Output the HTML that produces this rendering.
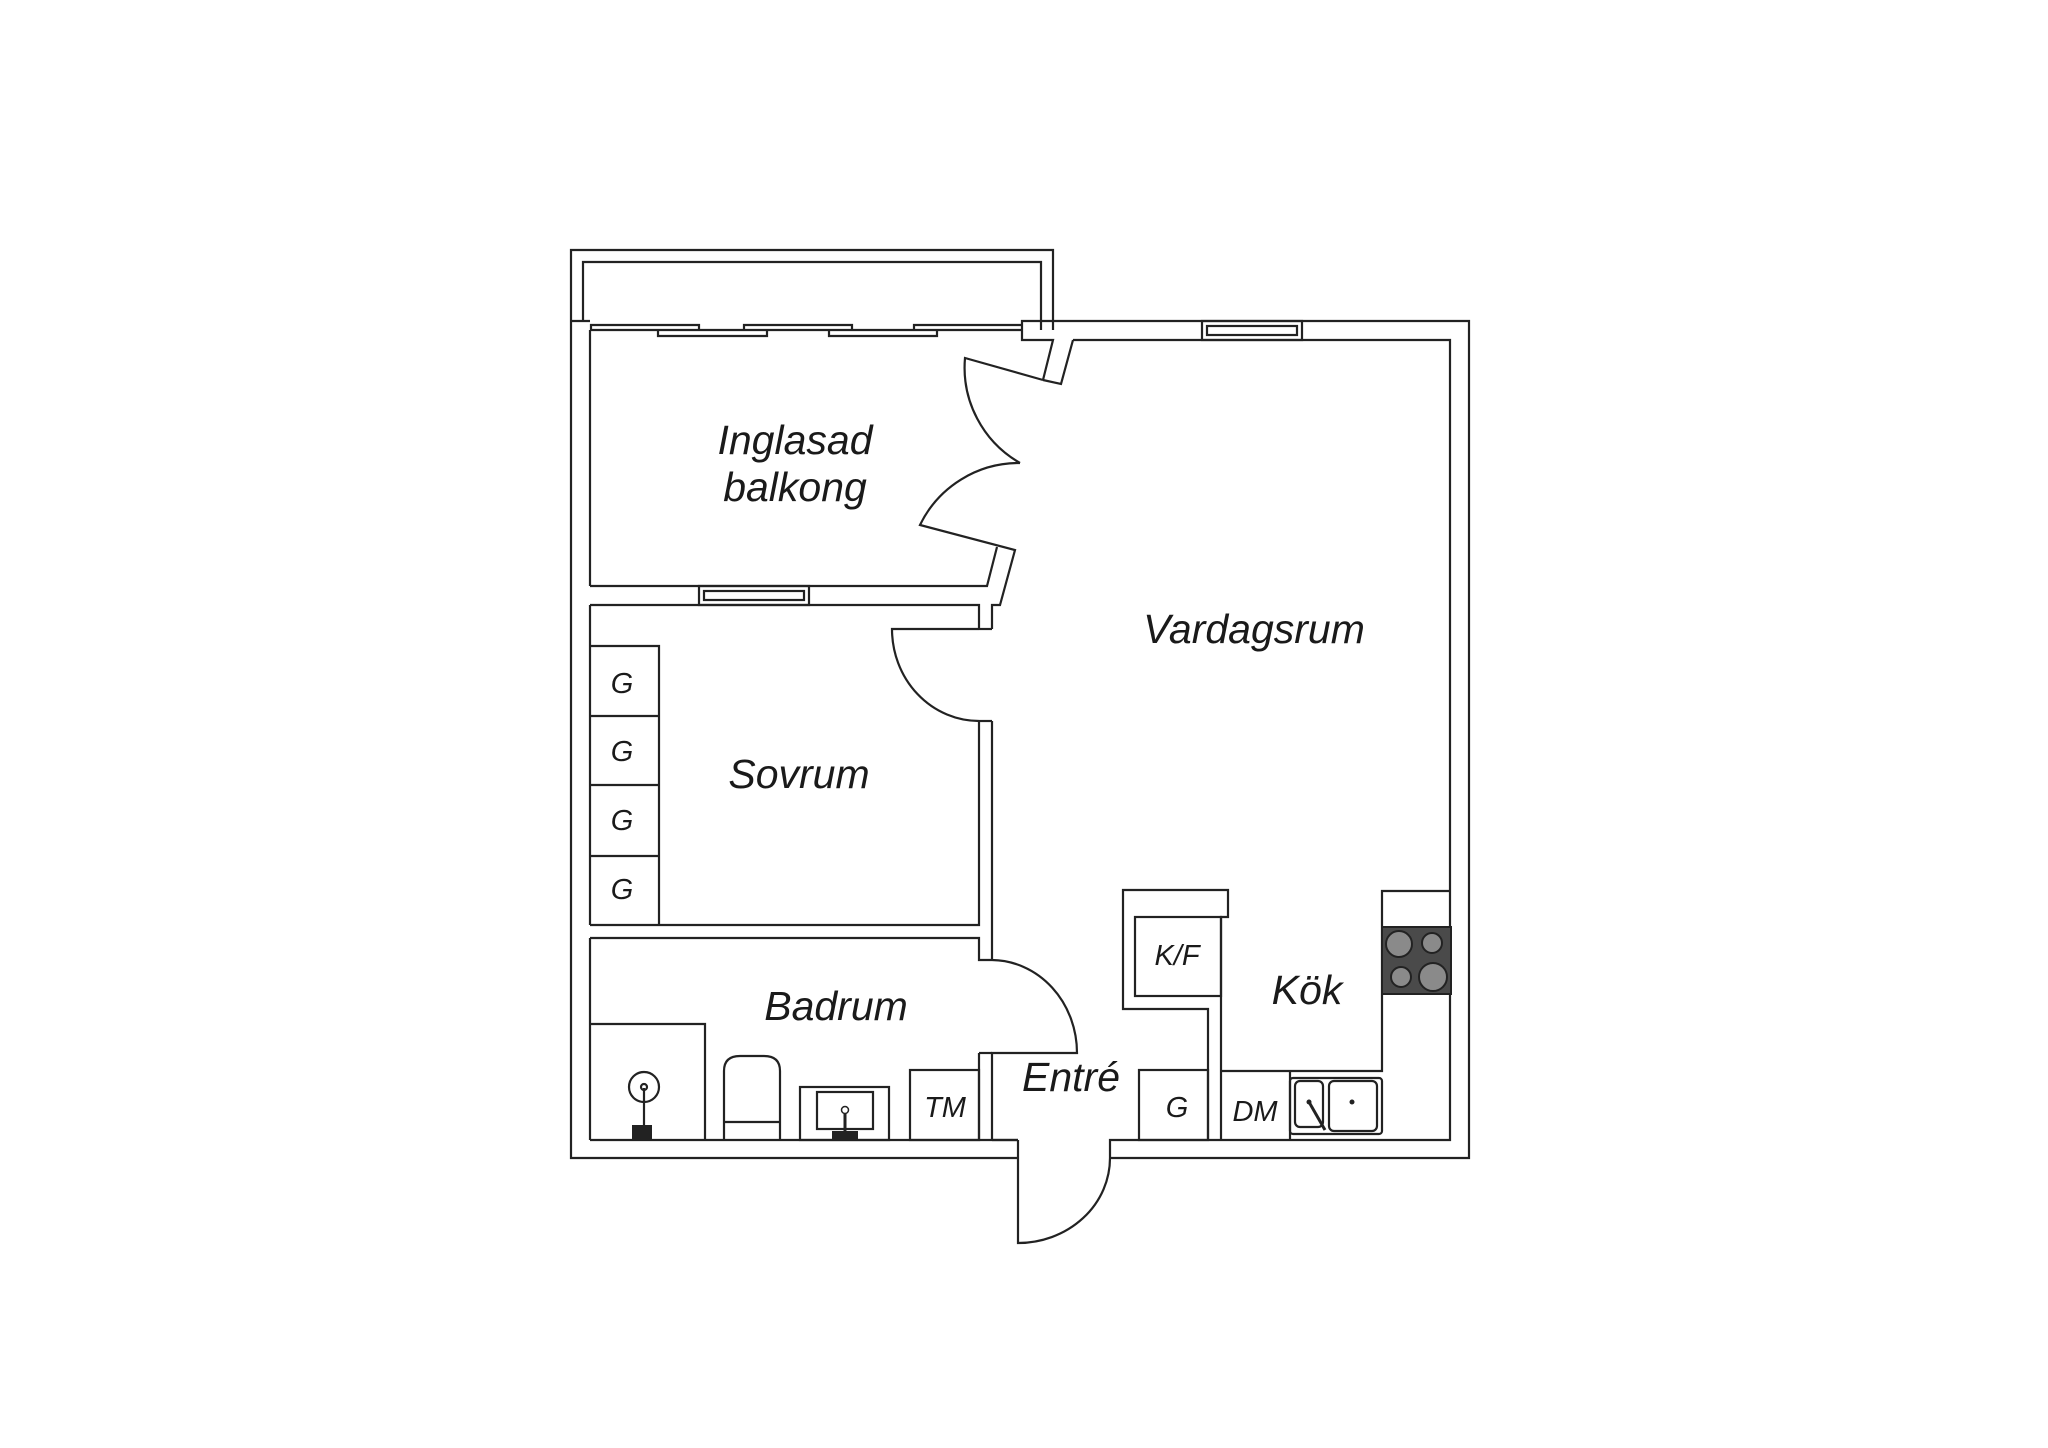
<!DOCTYPE html>
<html><head><meta charset="utf-8"><style>
html,body{margin:0;padding:0;background:#fff;}
svg{display:block;}
text{font-family:"Liberation Sans",sans-serif;font-style:italic;fill:#1a1a1a;text-anchor:middle;}
</style></head><body>
<svg width="2048" height="1448" viewBox="0 0 2048 1448" xmlns="http://www.w3.org/2000/svg">
<rect width="2048" height="1448" fill="#fff"/>
<g fill="none" stroke="#222" stroke-width="2.2" stroke-linejoin="miter">
<!-- balcony rail -->
<path d="M571 321 L571 250 L1053 250 L1053 330"/>
<path d="M583 321 L583 262 L1041 262 L1041 330"/>
<line x1="571" y1="321" x2="590" y2="321"/>
<!-- glazing -->
<path d="M591 330 L591 325 L699 325 L699 330"/>
<path d="M744 330 L744 325 L852 325 L852 330"/>
<path d="M914 330 L914 325 L1022 325"/>
<path d="M658 330 L658 336 L767 336 L767 330"/>
<path d="M829 330 L829 336 L937 336 L937 330"/>
<line x1="591" y1="330" x2="1022" y2="330"/>
<!-- outer walls -->
<path d="M571 321 L571 1158 L1018 1158"/>
<path d="M1110 1158 L1469 1158 L1469 321 L1022 321 L1022 340 L1053 340 L1043 380"/>
<path d="M1073 340 L1450 340 L1450 1140 L1110 1140 L1110 1158"/>
<path d="M1073 340 L1061 384 L1043 380"/>
<path d="M590 1140 L590 938 M590 925 L590 605 M590 586 L590 330"/>
<line x1="590" y1="1140" x2="1018" y2="1140"/>
<line x1="1018" y1="1140" x2="1018" y2="1158"/>
<!-- top window -->
<rect x="1202" y="321" width="100" height="19"/>
<rect x="1207" y="326" width="90" height="9"/>
<!-- balcony doors -->
<path d="M1043 380 L965 358 A110 110 0 0 0 1020 463"/>
<path d="M1020 463 A110 110 0 0 0 920 525 L1015 550 L1000 605 L992 605 L992 629"/>
<path d="M997 547 L987 586 L590 586"/>
<path d="M590 605 L979 605 L979 629"/>
<!-- balcony/bedroom window -->
<rect x="699" y="586" width="110" height="19"/>
<rect x="704" y="591" width="100" height="9"/>
<!-- bedroom door -->
<path d="M979 629 L892 629 A87 92 0 0 0 979 721"/>
<line x1="979" y1="629" x2="992" y2="629"/>
<path d="M979 721 L979 925 L590 925"/>
<path d="M992 721 L992 960"/>
<line x1="979" y1="721" x2="992" y2="721"/>
<!-- wardrobes -->
<path d="M590 646 L659 646 L659 925"/>
<line x1="590" y1="716" x2="659" y2="716"/>
<line x1="590" y1="785" x2="659" y2="785"/>
<line x1="590" y1="856" x2="659" y2="856"/>
<!-- bathroom -->
<path d="M590 938 L979 938 L979 960 L992 960 A86 93 0 0 1 1077 1053 L992 1053 L992 1140"/>
<path d="M979 1053 L979 1140"/>
<line x1="979" y1="1053" x2="992" y2="1053"/>
<path d="M590 1024 L705 1024 L705 1140"/>
<circle cx="644" cy="1087" r="15"/>
<circle cx="644" cy="1087" r="3"/>
<line x1="644" y1="1088" x2="644" y2="1128"/>
<path d="M724 1140 L724 1071 Q724 1056 740 1056 L764 1056 Q780 1056 780 1071 L780 1140 M724 1122 L780 1122"/>
<rect x="800" y="1087" width="89" height="53"/>
<rect x="817" y="1092" width="56" height="37"/>
<rect x="910" y="1070" width="69" height="70"/>
<!-- entry door -->
<path d="M1018 1158 L1018 1243 A92 85 0 0 0 1110 1158"/>
<path d="M992 1140 L1018 1140"/>
<rect x="1139" y="1070" width="69" height="70"/>
<!-- K/F block -->
<path d="M1208 1140 L1208 1009 L1123 1009 L1123 890 L1228 890 L1228 917 L1221 917 L1221 1140"/>
<rect x="1135" y="917" width="86" height="79"/>
<!-- kitchen counters -->
<path d="M1221 1071 L1382 1071 L1382 891 L1450 891"/>
<line x1="1290" y1="1071" x2="1290" y2="1140"/>
<rect x="1290" y="1078" width="92" height="56" rx="3"/>
<rect x="1295" y="1081" width="28" height="46" rx="5"/>
<rect x="1329" y="1081" width="48" height="50" rx="5"/>
</g>
<!-- stove -->
<rect x="1382" y="927" width="69" height="67" fill="#4a4a4a" stroke="#222" stroke-width="2"/>
<g fill="#8a8a8a" stroke="#222" stroke-width="2">
<circle cx="1399" cy="944" r="13"/><circle cx="1432" cy="943" r="10"/>
<circle cx="1401" cy="977" r="10"/><circle cx="1433" cy="977" r="14"/>
</g>
<g fill="#222">
<circle cx="1309" cy="1102" r="2.5"/><circle cx="1352" cy="1102" r="2.5"/>
<rect x="832" y="1131" width="26" height="8"/>
<rect x="632" y="1125" width="20" height="15"/>
</g>
<line x1="1309" y1="1102" x2="1325" y2="1130" stroke="#222" stroke-width="3"/>
<line x1="845" y1="1112" x2="845" y2="1138" stroke="#222" stroke-width="3"/>
<circle cx="845" cy="1110" r="3.5" fill="#fff" stroke="#222" stroke-width="1.5"/>
<!-- labels -->
<g font-size="41">
<text x="795" y="454">Inglasad</text>
<text x="795" y="501">balkong</text>
<text x="1254" y="643">Vardagsrum</text>
<text x="799" y="788">Sovrum</text>
<text x="836" y="1020">Badrum</text>
<text x="1071" y="1091">Entré</text>
<text x="1307" y="1004">Kök</text>
</g>
<g font-size="29">
<text x="622" y="693">G</text>
<text x="622" y="761">G</text>
<text x="622" y="830">G</text>
<text x="622" y="899">G</text>
<text x="1177" y="965">K/F</text>
<text x="945" y="1117">TM</text>
<text x="1177" y="1117">G</text>
<text x="1255" y="1121">DM</text>
</g>
</svg>
</body></html>
